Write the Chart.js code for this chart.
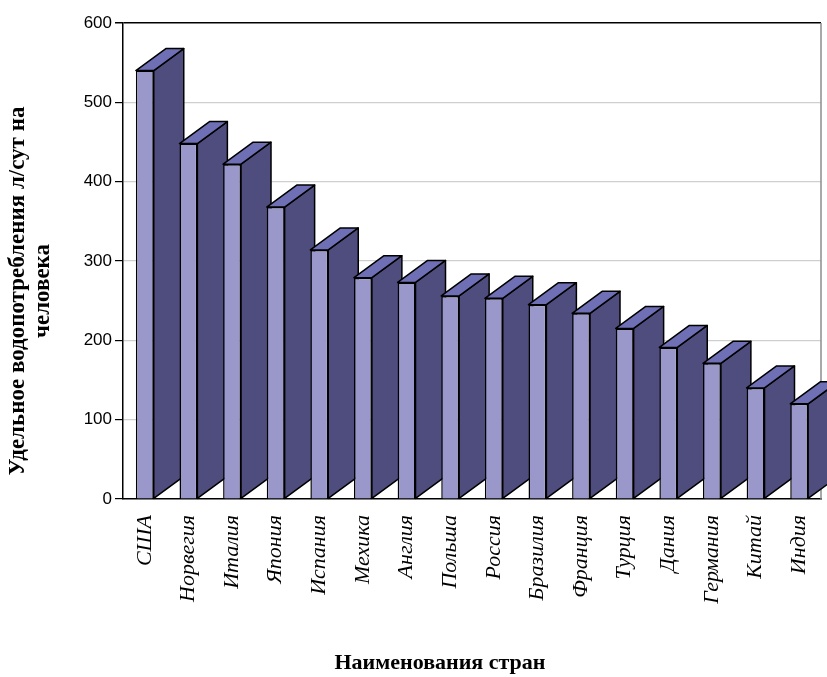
<!DOCTYPE html>
<html>
<head>
<meta charset="utf-8">
<script src="https://cdn.jsdelivr.net/npm/chart.js@4/dist/chart.umd.min.js"></script>
<style>
  html, body { margin: 0; padding: 0; background: #fff; }
  canvas { display: block; }
</style>
</head>
<body>
<canvas id="chart" width="827" height="677"></canvas>
<script>
// Countries and daily specific water use, litres per person per day
const countries = ['США', 'Норвегия', 'Италия', 'Япония', 'Испания', 'Мехика', 'Англия', 'Польша',
                   'Россия', 'Бразилия', 'Франция', 'Турция', 'Дания', 'Германия', 'Китай', 'Индия'];
const waterUse = [540, 448, 422, 368, 314, 279, 273, 256, 253, 245, 234, 215, 191, 171, 140, 120];
const yTicks = [0, 100, 200, 300, 400, 500, 600];
const yTitleLines = ['Удельное водопотребления л/сут на', 'человека'];
const xTitle = 'Наименования стран';

const FRONT = '#9a98ca';
const SIDE = '#4f4d7d';
const TOP = '#6f6fb5';
const EDGE = '#000';
const DEPTH_X = 30, DEPTH_Y = 22;

// Draws the depth faces (right side and top) behind each bar's front face
const bar3d = {
  id: 'bar3d',
  beforeDatasetsDraw(chart) {
    const ctx = chart.ctx;
    const area = chart.chartArea;
    ctx.save();
    // plot frame right edge
    ctx.strokeStyle = '#8c8c8c';
    ctx.lineWidth = 1.5;
    ctx.beginPath();
    ctx.moveTo(area.right, area.top);
    ctx.lineTo(area.right, area.bottom);
    ctx.stroke();

    ctx.lineWidth = 1.5;
    ctx.lineJoin = 'round';
    ctx.strokeStyle = EDGE;
    const meta = chart.getDatasetMeta(0);
    meta.data.forEach(bar => {
      const p = bar.getProps(['x', 'y', 'base', 'width'], true);
      const l = p.x - p.width / 2, r = p.x + p.width / 2;
      // side face
      ctx.beginPath();
      ctx.moveTo(r, p.base);
      ctx.lineTo(r + DEPTH_X, p.base - DEPTH_Y);
      ctx.lineTo(r + DEPTH_X, p.y - DEPTH_Y);
      ctx.lineTo(r, p.y);
      ctx.closePath();
      ctx.fillStyle = SIDE;
      ctx.fill();
      ctx.stroke();
      // top face
      ctx.beginPath();
      ctx.moveTo(l, p.y);
      ctx.lineTo(l + DEPTH_X, p.y - DEPTH_Y);
      ctx.lineTo(r + DEPTH_X, p.y - DEPTH_Y);
      ctx.lineTo(r, p.y);
      ctx.closePath();
      ctx.fillStyle = TOP;
      ctx.fill();
      ctx.stroke();
    });
    ctx.restore();
  },
  afterDraw(chart) {
    const ctx = chart.ctx;
    ctx.save();
    ctx.fillStyle = '#000';
    ctx.textAlign = 'center';
    ctx.textBaseline = 'middle';
    // x axis title
    ctx.font = 'bold 22px "Liberation Serif", "Times New Roman", serif';
    ctx.fillText(xTitle, 440, 663);
    // y axis title, two rotated lines
    ctx.font = 'bold 23px "Liberation Serif", "Times New Roman", serif';
    ctx.translate(0, 291);
    ctx.rotate(-Math.PI / 2);
    ctx.fillText(yTitleLines[0], 0, 18);
    ctx.fillText(yTitleLines[1], 0, 43);
    ctx.restore();
  }
};

new Chart(document.getElementById('chart'), {
  type: 'bar',
  data: {
    labels: countries,
    datasets: [{
      data: waterUse,
      backgroundColor: FRONT,
      borderColor: EDGE,
      borderWidth: 1.5,
      barPercentage: 0.41,
      categoryPercentage: 1.0
    }]
  },
  options: {
    responsive: false,
    animation: false,
    devicePixelRatio: 1,
    layout: { padding: { top: 23, right: 6, left: 0, bottom: 0 } },
    plugins: {
      legend: { display: false },
      tooltip: { enabled: false }
    },
    scales: {
      x: {
        grid: { display: false, drawTicks: false },
        border: { color: '#000', width: 1.5 },
        ticks: {
          minRotation: 90,
          maxRotation: 90,
          padding: 16,
          color: '#000',
          font: { family: '"Liberation Serif", "Times New Roman", serif', style: 'italic', size: 22 }
        },
        afterFit(scale) {
          scale.height = 178;
          scale.paddingLeft = 0;
          scale.paddingRight = 0;
        }
      },
      y: {
        min: 0,
        max: 600,
        afterBuildTicks(scale) { scale.ticks = yTicks.map(v => ({ value: v })); },
        grid: {
          color: ctx => ctx.tick.value === 600 ? '#000' : (ctx.tick.value === 0 ? 'rgba(0,0,0,0)' : '#cfcfcf'),
          lineWidth: ctx => ctx.tick.value === 600 ? 1.5 : 1.2,
          tickColor: '#000',
          tickLength: 8
        },
        border: { color: '#000', width: 1.5 },
        ticks: {
          padding: 3,
          color: '#000',
          font: { family: '"Liberation Sans", Arial, sans-serif', size: 17 }
        },
        afterFit(scale) {
          scale.width = 123;
          scale.paddingTop = 0;
          scale.paddingBottom = 0;
        }
      }
    }
  },
  plugins: [bar3d]
});
</script>
</body>
</html>
